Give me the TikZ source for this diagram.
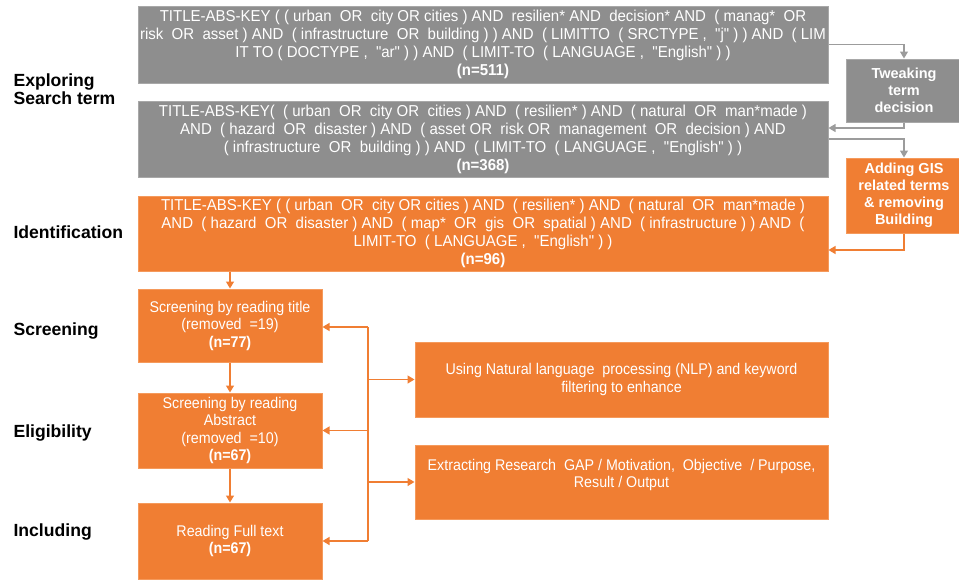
\documentclass[tikz,border=0pt]{standalone}
\usepackage{fontspec}
\setmainfont{Liberation Sans}
\newfontfamily\queryfont[FakeStretch=0.95]{Liberation Sans}
\newfontfamily\stagefont[FakeStretch=0.92]{Liberation Sans}
\usetikzlibrary{arrows.meta}
\definecolor{boxgray}{HTML}{8E8E8E}
\definecolor{edgegray}{HTML}{A8A8A8}
\definecolor{linegray}{HTML}{9C9C9C}
\definecolor{boxorange}{HTML}{F07E33}
\definecolor{edgeorange}{HTML}{F59A5C}
\tikzset{
  query/.style={draw=#1, line width=1pt, text=white, align=center,
    font=\queryfont\fontsize{15.8}{18}\selectfont, inner sep=2pt},
  graybox/.style={query=edgegray, fill=boxgray},
  orangebox/.style={query=edgeorange, fill=boxorange},
  stagebox/.style={draw=edgeorange, line width=1pt, fill=boxorange, text=white, align=center,
    font=\stagefont\fontsize{15.5}{17.5}\selectfont, inner sep=2pt},
  sidebox/.style={draw=#1, line width=1pt, text=white, align=center,
    font=\bfseries\fontsize{14.5}{17}\selectfont, inner sep=2pt},
  stagelabel/.style={anchor=west, align=left, font=\bfseries\fontsize{17.6}{17.5}\selectfont},
  garrow/.style={draw=linegray, line width=1.1pt, -{Triangle[length=7pt,width=8pt]}},
  oarrow/.style={draw=boxorange, line width=1.4pt, -{Triangle[length=7pt,width=8pt]}},
  oline/.style={draw=boxorange, line width=1.4pt},
}
\begin{document}
\begin{tikzpicture}[x=1pt,y=-1pt]
\useasboundingbox (0,0) rectangle (959,579);

% query boxes
\node[graybox, minimum width=690pt, minimum height=77pt] (q1) at (483,44.5)
  {TITLE-ABS-KEY ( ( urban \ OR \ city OR cities ) AND \ resilien* AND \ decision* AND \ ( manag* \ OR\\
   risk \ OR \ asset ) AND \ ( infrastructure \ OR \ building ) ) AND \ ( LIMITTO \ ( SRCTYPE , \ "j" ) ) AND \ ( LIM\\
   IT TO ( DOCTYPE , \ "ar" ) ) AND \ ( LIMIT-TO \ ( LANGUAGE , \ "English" ) )\\
   \textbf{(n=511)}};
\node[graybox, minimum width=690pt, minimum height=76pt] (q2) at (483,139)
  {TITLE-ABS-KEY( \ ( urban \ OR \ city OR \ cities ) AND \ ( resilien* ) AND \ ( natural \ OR \ man*made )\\
   AND \ ( hazard \ OR \ disaster ) AND \ ( asset OR \ risk OR \ management \ OR \ decision ) AND\\
   ( infrastructure \ OR \ building ) ) AND \ ( LIMIT-TO \ ( LANGUAGE , \ "English" ) )\\
   \textbf{(n=368)}};
\node[orangebox, minimum width=690pt, minimum height=75pt] (q3) at (483,233.5)
  {TITLE-ABS-KEY ( ( urban \ OR \ city OR cities ) AND \ ( resilien* ) AND \ ( natural \ OR \ man*made )\\
   AND \ ( hazard \ OR \ disaster ) AND \ ( map* \ OR \ gis \ OR \ spatial ) AND \ ( infrastructure ) ) AND \ (\\
   LIMIT-TO \ ( LANGUAGE , \ "English" ) )\\
   \textbf{(n=96)}};

% side boxes
\node[sidebox=edgegray, fill=boxgray, minimum width=116pt, minimum height=63pt] (tw) at (904,90.5)
  {Tweaking\\term\\decision};
\node[sidebox=edgeorange, fill=boxorange, minimum width=116pt, minimum height=75pt] (gis) at (904,195.5)
  {Adding GIS\\related terms\\\& removing\\Building};

% screening stages
\node[stagebox, minimum width=184pt, minimum height=73pt] (s1) at (230,325.5)
  {Screening by reading title\\(removed \ =19)\\\textbf{(n=77)}};
\node[stagebox, minimum width=184pt, minimum height=75pt] (s2) at (230,430.5)
  {Screening by reading\\Abstract\\(removed \ =10)\\\textbf{(n=67)}};
\node[stagebox, minimum width=184pt, minimum height=76pt] (s3) at (230,541)
  {Reading Full text\\\textbf{(n=67)}};

% methods
\node[stagebox, minimum width=413pt, minimum height=75pt] (nlp) at (621.5,379.5)
  {Using Natural language \ processing (NLP) and keyword\\filtering to enhance};
\node[stagebox, minimum width=413pt, minimum height=74pt] (ext) at (621.5,482)
  {Extracting Research \ GAP / Motivation, \ Objective \ / Purpose,\\Result / Output\\~};

% stage labels
\node[stagelabel] (l1) at (10,89) {Exploring\\Search term};
\node[stagelabel] (l2) at (10,232) {Identification};
\node[stagelabel] (l3) at (10,331) {Screening};
\node[stagelabel] (l4) at (10,433) {Eligibility};
\node[stagelabel] (l5) at (10,532) {Including};

% search refinement loop
\draw[garrow] (q1.east) -| (tw.north);
\draw[garrow] (tw.south) |- ([yshift=11pt]q2.east);
\draw[garrow] (q2.east) -| (gis.north);
\draw[oarrow] (gis.south) |- ([yshift=-16.5pt]q3.east);

% stage flow
\draw[oarrow] (s1.north |- q3.south) -- (s1.north);
\draw[oarrow] (s1.south) -- (s2.north);
\draw[oarrow] (s2.south) -- (s3.north);

% method bus
\coordinate (bus) at (368,0);
\draw[oline] ([yshift=-1.5pt]s1.east -| bus) -- (s3.east -| bus);
\draw[oarrow] ([yshift=-1.5pt]s1.east -| bus) -- ([yshift=-1.5pt]s1.east);
\draw[oarrow] (s2.east -| bus) -- (s2.east);
\draw[oarrow] (s3.east -| bus) -- (s3.east);
\draw[oarrow] (nlp.west -| bus) -- (nlp.west);
\draw[oarrow] (ext.west -| bus) -- (ext.west);
\end{tikzpicture}
\end{document}
